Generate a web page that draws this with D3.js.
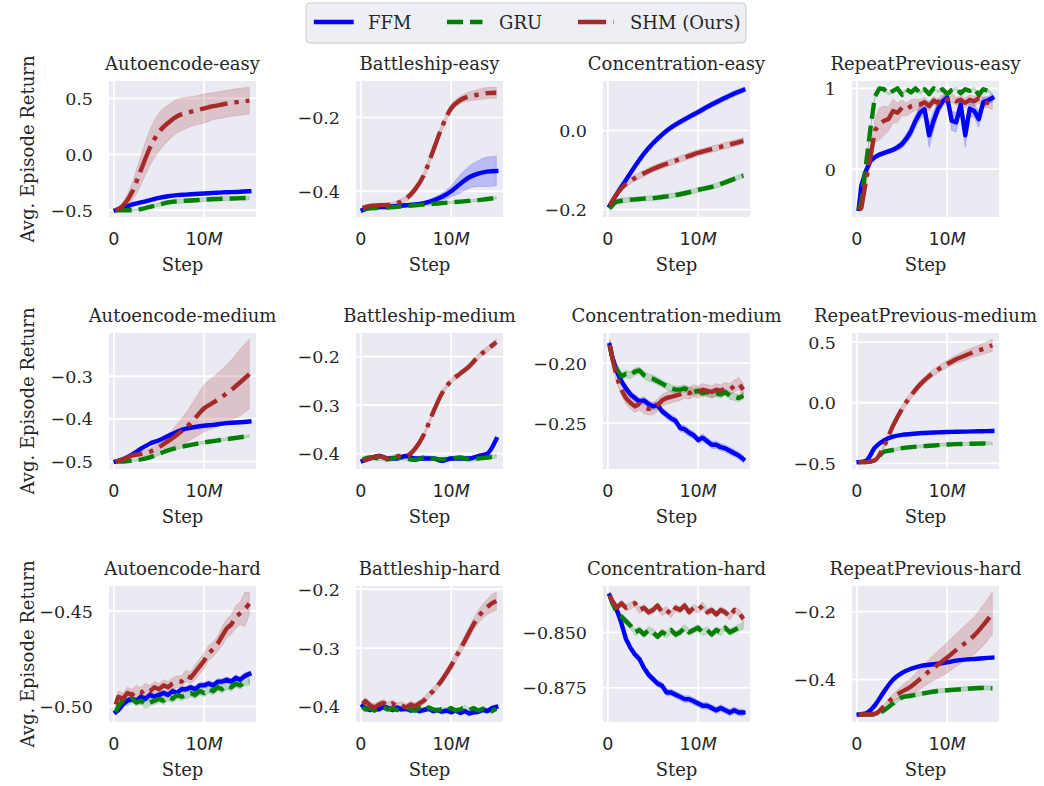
<!DOCTYPE html>
<html>
<head>
<meta charset="utf-8">
<script src="https://cdn.jsdelivr.net/npm/d3@7"></script>
<style>
  body { margin: 0; background: #fff; }
  text { fill: #262626; }
</style>
</head>
<body>
<svg id="chart" width="1044" height="786"></svg>
<script>
// ---- data (steps in millions) ----
const STEPS = [0.2, 1, 2, 3, 4, 5, 6, 7, 8, 9, 10, 11, 12, 13, 14, 15];
const STEPS_FINE = [0.2, 0.5, 1, 1.5, 2, 2.5, 3, 3.5, 4, 4.5, 5, 5.5, 6, 6.5, 7, 7.5,
                    8, 8.5, 9, 9.5, 10, 10.5, 11, 11.5, 12, 12.5, 13, 13.5, 14, 14.5, 15];

const TITLES = ["Autoencode-easy", "Battleship-easy", "Concentration-easy", "RepeatPrevious-easy",
                "Autoencode-medium", "Battleship-medium", "Concentration-medium", "RepeatPrevious-medium",
                "Autoencode-hard", "Battleship-hard", "Concentration-hard", "RepeatPrevious-hard"];

const Y_TICKS = [[-0.5, 0, 0.5], [-0.4, -0.2], [-0.2, 0], [0, 1],
                 [-0.5, -0.4, -0.3], [-0.4, -0.3, -0.2], [-0.25, -0.20], [-0.5, 0, 0.5],
                 [-0.50, -0.45], [-0.4, -0.3, -0.2], [-0.875, -0.850], [-0.4, -0.2]];
const Y_DECIMALS = [1, 1, 1, 0, 1, 1, 2, 1, 2, 1, 3, 1];
const X_TICKS = [0, 10];

// Autoencode-easy
const AE_EASY_FFM = [-0.50, -0.48, -0.45, -0.43, -0.41, -0.39, -0.375, -0.365, -0.36, -0.355, -0.35, -0.345, -0.34, -0.338, -0.335, -0.33];
const AE_EASY_FFM_SD = [0.003, 0.005, 0.007, 0.008, 0.008, 0.008, 0.008, 0.008, 0.008, 0.008, 0.008, 0.008, 0.008, 0.008, 0.008, 0.008];
const AE_EASY_GRU = [-0.50, -0.50, -0.50, -0.49, -0.47, -0.45, -0.43, -0.42, -0.415, -0.41, -0.405, -0.40, -0.397, -0.395, -0.392, -0.39];
const AE_EASY_GRU_SD = [0.003, 0.003, 0.005, 0.008, 0.012, 0.015, 0.018, 0.018, 0.018, 0.018, 0.018, 0.018, 0.018, 0.018, 0.018, 0.018];
const AE_EASY_SHM = [-0.50, -0.46, -0.34, -0.14, 0.06, 0.20, 0.28, 0.34, 0.37, 0.39, 0.41, 0.43, 0.445, 0.46, 0.47, 0.48];
const AE_EASY_SHM_SD = [0.003, 0.03, 0.08, 0.13, 0.16, 0.17, 0.16, 0.15, 0.14, 0.13, 0.13, 0.12, 0.12, 0.12, 0.12, 0.12];

// Battleship-easy
const BS_EASY_FFM = [-0.451, -0.445, -0.443, -0.442, -0.44, -0.438, -0.436, -0.432, -0.425, -0.415, -0.40, -0.38, -0.362, -0.352, -0.347, -0.345];
const BS_EASY_FFM_SD = [0.002, 0.003, 0.003, 0.003, 0.004, 0.004, 0.004, 0.005, 0.007, 0.01, 0.015, 0.025, 0.03, 0.035, 0.04, 0.04];
const BS_EASY_GRU = [-0.448, -0.446, -0.445, -0.444, -0.442, -0.44, -0.438, -0.436, -0.434, -0.432, -0.43, -0.428, -0.426, -0.424, -0.421, -0.418];
const BS_EASY_GRU_SD = 0.003;
const BS_EASY_SHM = [-0.445, -0.44, -0.438, -0.437, -0.432, -0.42, -0.395, -0.355, -0.29, -0.225, -0.175, -0.153, -0.143, -0.138, -0.134, -0.133];
const BS_EASY_SHM_SD = [0.004, 0.005, 0.005, 0.005, 0.006, 0.008, 0.01, 0.01, 0.01, 0.01, 0.01, 0.01, 0.012, 0.014, 0.015, 0.015];

// Concentration-easy
const CO_EASY_FFM = [-0.19, -0.16, -0.125, -0.09, -0.058, -0.032, -0.01, 0.008, 0.022, 0.035, 0.047, 0.06, 0.072, 0.083, 0.094, 0.103];
const CO_EASY_FFM_SD = 0.007;
const CO_EASY_GRU = [-0.197, -0.18, -0.176, -0.174, -0.172, -0.171, -0.168, -0.165, -0.161, -0.156, -0.15, -0.145, -0.139, -0.131, -0.122, -0.114];
const CO_EASY_GRU_SD = 0.006;
const CO_EASY_SHM = [-0.19, -0.16, -0.135, -0.12, -0.108, -0.097, -0.088, -0.08, -0.072, -0.064, -0.056, -0.05, -0.044, -0.038, -0.032, -0.026];
const CO_EASY_SHM_SD = 0.008;

// RepeatPrevious-easy (fine steps)
const RP_EASY_FFM = [-0.49, -0.2, -0.02, 0.1, 0.15, 0.18, 0.2, 0.22, 0.24, 0.27, 0.31, 0.38, 0.47, 0.6, 0.7, 0.74,
                     0.42, 0.6, 0.75, 0.84, 0.89, 0.6, 0.58, 0.8, 0.42, 0.75, 0.72, 0.62, 0.83, 0.85, 0.88];
const RP_EASY_FFM_SD = [0.01, 0.03, 0.03, 0.03, 0.03, 0.03, 0.03, 0.03, 0.03, 0.04, 0.05, 0.06, 0.07, 0.08, 0.08, 0.08,
                        0.15, 0.12, 0.08, 0.06, 0.05, 0.12, 0.12, 0.08, 0.15, 0.1, 0.08, 0.1, 0.06, 0.05, 0.05];
const RP_EASY_GRU = [-0.5, -0.4, 0.05, 0.5, 0.9, 1.0, 0.99, 0.93, 0.97, 1.0, 0.92, 0.99, 0.95, 1.0, 0.94, 0.99,
                     0.93, 1.0, 0.96, 0.99, 0.93, 0.98, 1.0, 0.94, 0.99, 0.97, 1.0, 0.92, 0.99, 0.97, 0.93];
const RP_EASY_GRU_SD = 0.015;
const RP_EASY_SHM = [-0.5, -0.48, -0.15, 0.15, 0.48, 0.56, 0.6, 0.62, 0.72, 0.7, 0.76, 0.74, 0.78, 0.8, 0.8, 0.83,
                     0.78, 0.85, 0.82, 0.89, 0.86, 0.88, 0.84, 0.86, 0.82, 0.86, 0.84, 0.88, 0.83, 0.82, 0.8];
const RP_EASY_SHM_SD = [0.01, 0.02, 0.06, 0.1, 0.15, 0.2, 0.18, 0.15, 0.15, 0.12, 0.1, 0.08, 0.08, 0.07, 0.06, 0.06,
                        0.06, 0.05, 0.05, 0.05, 0.05, 0.05, 0.05, 0.05, 0.06, 0.06, 0.06, 0.06, 0.06, 0.06, 0.06];

// Autoencode-medium
const AE_MED_FFM = [-0.5, -0.495, -0.484, -0.47, -0.458, -0.45, -0.44, -0.43, -0.423, -0.419, -0.416, -0.414, -0.411, -0.409, -0.408, -0.406];
const AE_MED_FFM_SD = 0.003;
const AE_MED_GRU = [-0.5, -0.5, -0.498, -0.495, -0.49, -0.482, -0.474, -0.468, -0.463, -0.459, -0.455, -0.452, -0.449, -0.446, -0.443, -0.44];
const AE_MED_GRU_SD = 0.003;
const AE_MED_SHM = [-0.5, -0.495, -0.486, -0.482, -0.477, -0.466, -0.452, -0.437, -0.42, -0.398, -0.375, -0.362, -0.348, -0.332, -0.314, -0.295];
const AE_MED_SHM_SD = [0.003, 0.004, 0.005, 0.006, 0.008, 0.01, 0.015, 0.025, 0.035, 0.045, 0.055, 0.06, 0.065, 0.07, 0.078, 0.082];

// Battleship-medium
const BS_MED_FFM = [-0.415, -0.41, -0.405, -0.41, -0.41, -0.405, -0.41, -0.41, -0.41, -0.415, -0.41, -0.41, -0.41, -0.405, -0.40, -0.37];
const BS_MED_FFM_SD = 0.004;
const BS_MED_GRU = [-0.412, -0.408, -0.41, -0.412, -0.408, -0.41, -0.413, -0.408, -0.41, -0.412, -0.41, -0.408, -0.412, -0.41, -0.408, -0.405];
const BS_MED_GRU_SD = 0.004;
const BS_MED_SHM = [-0.415, -0.41, -0.405, -0.41, -0.405, -0.405, -0.39, -0.36, -0.315, -0.275, -0.25, -0.235, -0.22, -0.2, -0.185, -0.17];
const BS_MED_SHM_SD = [0.004, 0.004, 0.004, 0.004, 0.004, 0.004, 0.005, 0.005, 0.005, 0.005, 0.005, 0.005, 0.005, 0.006, 0.006, 0.006];

// Concentration-medium (fine steps)
const CO_MED_FFM = [-0.185, -0.195, -0.207, -0.215, -0.221, -0.226, -0.229, -0.232, -0.231, -0.234, -0.236, -0.235, -0.240, -0.243, -0.246, -0.248,
                    -0.254, -0.255, -0.258, -0.26, -0.264, -0.262, -0.265, -0.268, -0.268, -0.270, -0.271, -0.273, -0.275, -0.277, -0.280];
const CO_MED_FFM_SD = 0.003;
const CO_MED_GRU = [-0.185, -0.196, -0.205, -0.211, -0.209, -0.21, -0.207, -0.206, -0.21, -0.212, -0.213, -0.215, -0.217, -0.219, -0.221, -0.222,
                    -0.222, -0.221, -0.223, -0.224, -0.223, -0.225, -0.224, -0.226, -0.225, -0.226, -0.224, -0.227, -0.228, -0.229, -0.227];
const CO_MED_GRU_SD = 0.003;
const CO_MED_SHM = [-0.185, -0.196, -0.212, -0.222, -0.229, -0.233, -0.236, -0.234, -0.237, -0.238, -0.238, -0.235, -0.231, -0.229, -0.228, -0.227,
                    -0.226, -0.224, -0.225, -0.223, -0.224, -0.222, -0.223, -0.224, -0.222, -0.223, -0.221, -0.222, -0.219, -0.217, -0.222];
const CO_MED_SHM_SD = 0.005;

// RepeatPrevious-medium
const RP_MED_FFM = [-0.49, -0.48, -0.37, -0.31, -0.28, -0.265, -0.258, -0.252, -0.248, -0.245, -0.242, -0.24, -0.238, -0.236, -0.235, -0.233];
const RP_MED_FFM_SD = 0.006;
const RP_MED_GRU = [-0.49, -0.49, -0.475, -0.405, -0.39, -0.375, -0.366, -0.36, -0.355, -0.35, -0.345, -0.342, -0.34, -0.338, -0.336, -0.335];
const RP_MED_GRU_SD = [0.005, 0.005, 0.008, 0.01, 0.012, 0.012, 0.012, 0.012, 0.012, 0.012, 0.012, 0.012, 0.012, 0.012, 0.012, 0.012];
const RP_MED_SHM = [-0.49, -0.49, -0.475, -0.36, -0.19, -0.05, 0.06, 0.15, 0.22, 0.275, 0.32, 0.36, 0.39, 0.42, 0.445, 0.475];
const RP_MED_SHM_SD = [0.005, 0.005, 0.01, 0.02, 0.03, 0.03, 0.03, 0.03, 0.03, 0.03, 0.03, 0.035, 0.04, 0.04, 0.045, 0.05];

// Autoencode-hard (fine steps)
const AE_HARD_FFM = [-0.503, -0.502, -0.499, -0.497, -0.496, -0.497, -0.495, -0.496, -0.494, -0.495, -0.494, -0.493, -0.494, -0.492, -0.493, -0.491,
                     -0.491, -0.490, -0.491, -0.489, -0.489, -0.488, -0.489, -0.487, -0.487, -0.486, -0.487, -0.485, -0.486, -0.484, -0.483];
const AE_HARD_FFM_SD = 0.0015;
const AE_HARD_GRU = [-0.503, -0.5, -0.497, -0.498, -0.496, -0.498, -0.497, -0.499, -0.498, -0.497, -0.496, -0.497, -0.495, -0.496, -0.494, -0.495,
                     -0.494, -0.493, -0.494, -0.492, -0.493, -0.491, -0.492, -0.49, -0.491, -0.489, -0.49, -0.488, -0.489, -0.487, -0.487];
const AE_HARD_GRU_SD = 0.002;
const AE_HARD_SHM = [-0.499, -0.495, -0.496, -0.493, -0.494, -0.492, -0.493, -0.491, -0.492, -0.49, -0.491, -0.489, -0.49, -0.488, -0.487, -0.487,
                     -0.484, -0.485, -0.482, -0.479, -0.476, -0.472, -0.47, -0.467, -0.463, -0.459, -0.457, -0.453, -0.451, -0.449, -0.446];
const AE_HARD_SHM_SD = [0.003, 0.003, 0.003, 0.003, 0.003, 0.003, 0.003, 0.003, 0.003, 0.003, 0.003, 0.003, 0.003, 0.003, 0.003, 0.003,
                        0.003, 0.003, 0.004, 0.004, 0.004, 0.004, 0.004, 0.004, 0.005, 0.005, 0.005, 0.006, 0.006, 0.009, 0.006];

// Battleship-hard (fine steps)
const BS_HARD_FFM = [-0.398, -0.402, -0.405, -0.401, -0.404, -0.399, -0.402, -0.405, -0.401, -0.404, -0.403, -0.406, -0.404, -0.407, -0.405, -0.403,
                     -0.407, -0.405, -0.408, -0.406, -0.409, -0.406, -0.410, -0.407, -0.411, -0.409, -0.408, -0.405, -0.407, -0.402, -0.400];
const BS_HARD_FFM_SD = 0.004;
const BS_HARD_GRU = [-0.4, -0.404, -0.402, -0.406, -0.403, -0.401, -0.404, -0.402, -0.405, -0.403, -0.401, -0.404, -0.406, -0.402, -0.405, -0.401,
                     -0.404, -0.406, -0.403, -0.405, -0.402, -0.406, -0.404, -0.401, -0.405, -0.402, -0.406, -0.403, -0.405, -0.407, -0.403];
const BS_HARD_GRU_SD = 0.004;
const BS_HARD_SHM = [-0.395, -0.39, -0.397, -0.401, -0.396, -0.393, -0.398, -0.394, -0.399, -0.397, -0.401, -0.396, -0.399, -0.394, -0.389, -0.38,
                     -0.373, -0.364, -0.354, -0.342, -0.33, -0.316, -0.302, -0.288, -0.273, -0.259, -0.247, -0.237, -0.23, -0.224, -0.22];
const BS_HARD_SHM_SD = [0.006, 0.006, 0.006, 0.006, 0.006, 0.006, 0.006, 0.006, 0.006, 0.006, 0.006, 0.006, 0.006, 0.006, 0.006, 0.006,
                        0.006, 0.006, 0.007, 0.007, 0.008, 0.008, 0.009, 0.009, 0.01, 0.01, 0.011, 0.012, 0.013, 0.015, 0.015];

// Concentration-hard (fine steps)
const CO_HARD_FFM = [-0.8335, -0.8365, -0.840, -0.846, -0.853, -0.857, -0.860, -0.862, -0.866, -0.869, -0.871, -0.873, -0.874, -0.877, -0.877, -0.878,
                     -0.879, -0.880, -0.880, -0.881, -0.882, -0.883, -0.883, -0.884, -0.885, -0.884, -0.885, -0.886, -0.885, -0.886, -0.886];
const CO_HARD_FFM_SD = 0.0015;
const CO_HARD_GRU = [-0.8335, -0.837, -0.841, -0.843, -0.845, -0.847, -0.850, -0.849, -0.851, -0.849, -0.850, -0.852, -0.850, -0.851, -0.849, -0.851,
                     -0.850, -0.848, -0.850, -0.849, -0.848, -0.850, -0.849, -0.851, -0.849, -0.850, -0.848, -0.850, -0.849, -0.848, -0.847];
const CO_HARD_GRU_SD = 0.0015;
const CO_HARD_SHM = [-0.8335, -0.836, -0.839, -0.837, -0.839, -0.838, -0.837, -0.840, -0.839, -0.841, -0.840, -0.838, -0.841, -0.840, -0.842, -0.839,
                     -0.840, -0.838, -0.841, -0.839, -0.840, -0.838, -0.841, -0.840, -0.842, -0.840, -0.841, -0.843, -0.840, -0.841, -0.844];
const CO_HARD_SHM_SD = 0.0015;

// RepeatPrevious-hard
const RP_HARD_FFM = [-0.502, -0.499, -0.475, -0.435, -0.40, -0.38, -0.368, -0.36, -0.356, -0.353, -0.349, -0.344, -0.341, -0.339, -0.337, -0.335];
const RP_HARD_FFM_SD = 0.004;
const RP_HARD_GRU = [-0.502, -0.502, -0.502, -0.49, -0.47, -0.452, -0.447, -0.442, -0.437, -0.433, -0.431, -0.429, -0.427, -0.425, -0.424, -0.425];
const RP_HARD_GRU_SD = [0.004, 0.004, 0.004, 0.005, 0.006, 0.006, 0.006, 0.006, 0.006, 0.006, 0.006, 0.006, 0.006, 0.006, 0.006, 0.006];
const RP_HARD_SHM = [-0.502, -0.502, -0.5, -0.478, -0.452, -0.435, -0.42, -0.398, -0.375, -0.355, -0.335, -0.313, -0.292, -0.27, -0.24, -0.205];
const RP_HARD_SHM_SD = [0.004, 0.004, 0.005, 0.005, 0.01, 0.018, 0.025, 0.03, 0.035, 0.04, 0.045, 0.048, 0.052, 0.055, 0.06, 0.062];

// ---- table built from the arrays ----
const panels = [
  [STEPS, AE_EASY_FFM, AE_EASY_FFM_SD, AE_EASY_GRU, AE_EASY_GRU_SD, AE_EASY_SHM, AE_EASY_SHM_SD],
  [STEPS, BS_EASY_FFM, BS_EASY_FFM_SD, BS_EASY_GRU, BS_EASY_GRU_SD, BS_EASY_SHM, BS_EASY_SHM_SD],
  [STEPS, CO_EASY_FFM, CO_EASY_FFM_SD, CO_EASY_GRU, CO_EASY_GRU_SD, CO_EASY_SHM, CO_EASY_SHM_SD],
  [STEPS_FINE, RP_EASY_FFM, RP_EASY_FFM_SD, RP_EASY_GRU, RP_EASY_GRU_SD, RP_EASY_SHM, RP_EASY_SHM_SD],
  [STEPS, AE_MED_FFM, AE_MED_FFM_SD, AE_MED_GRU, AE_MED_GRU_SD, AE_MED_SHM, AE_MED_SHM_SD],
  [STEPS, BS_MED_FFM, BS_MED_FFM_SD, BS_MED_GRU, BS_MED_GRU_SD, BS_MED_SHM, BS_MED_SHM_SD],
  [STEPS_FINE, CO_MED_FFM, CO_MED_FFM_SD, CO_MED_GRU, CO_MED_GRU_SD, CO_MED_SHM, CO_MED_SHM_SD],
  [STEPS, RP_MED_FFM, RP_MED_FFM_SD, RP_MED_GRU, RP_MED_GRU_SD, RP_MED_SHM, RP_MED_SHM_SD],
  [STEPS_FINE, AE_HARD_FFM, AE_HARD_FFM_SD, AE_HARD_GRU, AE_HARD_GRU_SD, AE_HARD_SHM, AE_HARD_SHM_SD],
  [STEPS_FINE, BS_HARD_FFM, BS_HARD_FFM_SD, BS_HARD_GRU, BS_HARD_GRU_SD, BS_HARD_SHM, BS_HARD_SHM_SD],
  [STEPS_FINE, CO_HARD_FFM, CO_HARD_FFM_SD, CO_HARD_GRU, CO_HARD_GRU_SD, CO_HARD_SHM, CO_HARD_SHM_SD],
  [STEPS, RP_HARD_FFM, RP_HARD_FFM_SD, RP_HARD_GRU, RP_HARD_GRU_SD, RP_HARD_SHM, RP_HARD_SHM_SD]
].map((row, i) => ({
  title: TITLES[i],
  steps: row[0],
  series: [
    { vals: row[1], sd: row[2] },
    { vals: row[3], sd: row[4] },
    { vals: row[5], sd: row[6] }
  ]
}));

const SERIES_NAMES = ["FFM", "GRU", "SHM (Ours)"];
const COLORS = ["#0000ff", "#008000", "#a52a2a"];
const DASHES = [null, "16,7", "28,7,4.4,7"];

// ---- layout ----
const COL_LEFT = [109, 356, 603, 852];
const ROW_TOP = [81, 333, 586];
const W = 147, H = 136;
const LW = 4.4;
const SERIF = "DejaVu Serif";
const SANS = "DejaVu Sans";
const FS_LABEL = 18, FS_TICK = 17.5;

const svg = d3.select("#chart");
svg.append("rect").attr("width", 1044).attr("height", 786).attr("fill", "#fff");

const sdAt = (sd, k) => (Array.isArray(sd) ? sd[k] : sd);

panels.forEach((p, i) => {
  const r = Math.floor(i / 4), c = i % 4;
  const g = svg.append("g").attr("transform", `translate(${COL_LEFT[c]},${ROW_TOP[r]})`);

  const xe = d3.extent(p.steps);
  const xp = (xe[1] - xe[0]) * 0.05;
  const x = d3.scaleLinear().domain([xe[0] - xp, xe[1] + xp]).range([0, W]);

  let lo = Infinity, hi = -Infinity;
  p.series.forEach(s => s.vals.forEach((v, k) => {
    const e = sdAt(s.sd, k);
    lo = Math.min(lo, v - e); hi = Math.max(hi, v + e);
  }));
  const yp = (hi - lo) * 0.05;
  const y = d3.scaleLinear().domain([lo - yp, hi + yp]).range([H, 0]);

  const clipId = "clip" + i;
  g.append("clipPath").attr("id", clipId)
    .append("rect").attr("width", W).attr("height", H);

  g.append("rect").attr("width", W).attr("height", H).attr("fill", "#eaeaf2");

  // grid
  g.selectAll("line.gx").data(X_TICKS).join("line")
    .attr("x1", d => x(d)).attr("x2", d => x(d))
    .attr("y1", 0).attr("y2", H)
    .attr("stroke", "#fff").attr("stroke-width", 1.8);
  g.selectAll("line.gy").data(Y_TICKS[i]).join("line")
    .attr("class", "gy")
    .attr("x1", 0).attr("x2", W)
    .attr("y1", d => y(d)).attr("y2", d => y(d))
    .attr("stroke", "#fff").attr("stroke-width", 1.8);

  const curve = p.steps.length > 20 ? d3.curveLinear : d3.curveMonotoneX;
  const plot = g.append("g").attr("clip-path", `url(#${clipId})`);

  p.series.forEach((s, si) => {
    const pts = p.steps.map((st, k) => ({ x: st, v: s.vals[k], e: sdAt(s.sd, k) }));
    plot.append("path")
      .attr("d", d3.area().curve(curve)
        .x(d => x(d.x)).y0(d => y(d.v - d.e)).y1(d => y(d.v + d.e))(pts))
      .attr("fill", COLORS[si]).attr("fill-opacity", 0.2)
      .attr("stroke", COLORS[si]).attr("stroke-opacity", 0.2).attr("stroke-width", 0.8);
  });
  p.series.forEach((s, si) => {
    const pts = p.steps.map((st, k) => ({ x: st, v: s.vals[k] }));
    plot.append("path")
      .attr("d", d3.line().curve(curve).x(d => x(d.x)).y(d => y(d.v))(pts))
      .attr("fill", "none")
      .attr("stroke", COLORS[si])
      .attr("stroke-width", LW)
      .attr("stroke-linejoin", "round")
      .attr("stroke-linecap", DASHES[si] ? "butt" : "square")
      .attr("stroke-dasharray", DASHES[si]);
  });

  // y tick labels
  const fmt = d3.format(`.${Y_DECIMALS[i]}f`);
  g.selectAll("text.yt").data(Y_TICKS[i]).join("text")
    .attr("x", -16).attr("y", d => y(d) + 6.5)
    .attr("text-anchor", "end")
    .attr("font-family", SERIF).attr("font-size", FS_TICK)
    .text(d => fmt(d).replace("-", "\u2212"));

  // x tick labels: 0 and 10M (M italic)
  X_TICKS.forEach(t => {
    const tx = g.append("text")
      .attr("x", x(t)).attr("y", H + 28)
      .attr("text-anchor", "middle")
      .attr("font-family", SANS).attr("font-size", FS_TICK);
    if (t === 0) tx.text("0");
    else {
      tx.append("tspan").text(String(t));
      tx.append("tspan").attr("font-style", "italic").text("M");
    }
  });

  g.append("text")
    .attr("x", W / 2).attr("y", H + 54)
    .attr("text-anchor", "middle")
    .attr("font-family", SERIF).attr("font-size", FS_LABEL)
    .text("Step");

  g.append("text")
    .attr("x", W / 2).attr("y", -11)
    .attr("text-anchor", "middle")
    .attr("font-family", SERIF).attr("font-size", FS_LABEL)
    .text(p.title);

  if (c === 0) {
    g.append("text")
      .attr("transform", `translate(${34 - COL_LEFT[0]},${H / 2}) rotate(-90)`)
      .attr("text-anchor", "middle")
      .attr("font-family", SERIF).attr("font-size", FS_LABEL)
      .text("Avg. Episode Return");
  }
});

// ---- legend ----
const leg = svg.append("g");
leg.append("rect")
  .attr("x", 306).attr("y", 3).attr("width", 440).attr("height", 40).attr("rx", 4)
  .attr("fill", "#eaeaf2").attr("fill-opacity", 0.8)
  .attr("stroke", "#cccccc").attr("stroke-width", 1);
const LEG_X = [316, 447, 578];
SERIES_NAMES.forEach((name, si) => {
  leg.append("line")
    .attr("x1", LEG_X[si]).attr("x2", LEG_X[si] + 35.5)
    .attr("y1", 22).attr("y2", 22)
    .attr("stroke", COLORS[si]).attr("stroke-width", LW)
    .attr("stroke-linecap", DASHES[si] ? "butt" : "square")
    .attr("stroke-dasharray", DASHES[si]);
  leg.append("text")
    .attr("x", LEG_X[si] + 52).attr("y", 29)
    .attr("font-family", SERIF).attr("font-size", FS_LABEL)
    .text(name);
});
</script>
</body>
</html>
